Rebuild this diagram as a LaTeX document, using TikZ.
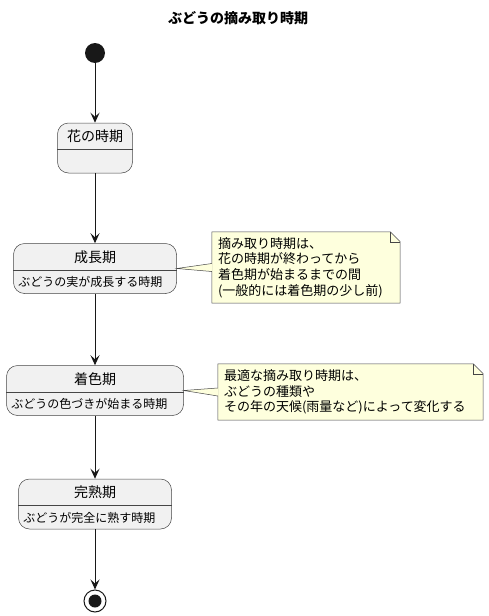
\documentclass[tikz,border=0pt]{standalone}
\usepackage{fontspec}
\setmainfont{Noto Sans CJK JP}
\usepackage{tikz}
\usetikzlibrary{arrows.meta,positioning,calc}
\definecolor{umlline}{HTML}{181818}
\definecolor{umlstate}{HTML}{F1F1F1}
\definecolor{umlnote}{HTML}{FEFFDD}

\begin{document}
\begin{tikzpicture}[x=1pt, y=-1pt,
  phase/.style={draw=umlline!80, fill=umlstate, rounded corners=11pt,
    line width=0.5pt, inner sep=0pt, minimum height=50pt},
  stitle/.style={font=\fontsize{14}{16}\selectfont, inner sep=0pt},
  sdesc/.style={font=\fontsize{12}{14}\selectfont, inner sep=0pt, anchor=west},
  notebox/.style={fill=umlnote, align=left, inner xsep=6pt, inner ysep=0pt,
    font=\fontsize{13}{15.6}\selectfont},
  noteline/.style={draw=umlline!80, line width=0.5pt},
  flow/.style={draw=umlline, line width=1pt,
    -{Stealth[length=10pt, width=9pt, inset=4pt]}}]
  \useasboundingbox (0,0) rectangle (489,616);
  \node[font=\fontsize{14}{16}\selectfont\bfseries, inner sep=0pt] (title) at (238,18)
    {ぶどうの摘み取り時期};
  % states
  \node[circle, fill=umlline, minimum size=20pt, inner sep=0pt] (start) at (95,53) {};
  \node[phase, minimum width=75pt] (s1) at (95,148) {};
  \node[stitle] (s1t) at ([yshift=-13.5pt]s1.north) {花の時期};
  \node[phase, minimum width=163pt] (s2) at (95,268.5) {};
  \node[stitle] (s2t) at ([yshift=-13.5pt]s2.north) {成長期};
  \node[sdesc] (s2d) at ([xshift=5pt, yshift=11.75pt]s2.south west) {ぶどうの実が成長する時期};
  \node[phase, minimum width=177pt] (s3) at (95,390.5) {};
  \node[stitle] (s3t) at ([yshift=-13.5pt]s3.north) {着色期};
  \node[sdesc] (s3d) at ([xshift=5pt, yshift=11.75pt]s3.south west) {ぶどうの色づきが始まる時期};
  \node[phase, minimum width=153pt] (s4) at (95,504) {};
  \node[stitle] (s4t) at ([yshift=-13.5pt]s4.north) {完熟期};
  \node[sdesc] (s4d) at ([xshift=5pt, yshift=11.75pt]s4.south west) {ぶどうが完全に熟す時期};
  \node[circle, draw=umlline, line width=1pt, minimum size=22pt, inner sep=0pt,
    path picture={\fill[umlline] (path picture bounding box.center) circle (6.5pt);}]
    (end) at (95,601) {};
  \foreach \s in {s1,s2,s3,s4}
    \draw[noteline] ([yshift=-26.5pt]\s.north west) -- ([yshift=-26.5pt]\s.north east);
  \foreach \a/\b in {start/s1,s1/s2,s2/s3,s3/s4,s4/end} \draw[flow] (\a) -- (\b);
  % notes
  \node[notebox, minimum width=188pt, minimum height=71pt, text width=176pt] (n1) at (306,267.5)
    {摘み取り時期は、\\花の時期が終わってから\\着色期が始まるまでの間\\(一般的には着色期の少し前)};
  \node[notebox, minimum width=265pt, minimum height=56pt, text width=253pt] (n2) at (350.5,392)
    {最適な摘み取り時期は、\\ぶどうの種類や\\その年の天候(雨量など)によって変化する};
  \foreach \n/\s in {n1/s2,n2/s3} {
    \fill[white] ([xshift=-10pt]\n.north east) -- (\n.north east)
      -- ([yshift=-10pt]\n.north east) -- cycle;
    \draw[noteline] (\n.south west) -- (\n.north west) -- ([xshift=-10pt]\n.north east)
      -- ([yshift=-10pt]\n.north east) -- (\n.south east) -- cycle;
    \draw[noteline] ([xshift=-10pt]\n.north east) |- ([yshift=-10pt]\n.north east);
    \fill[umlnote] (\s.east) -- ([xshift=0.6pt, yshift=4pt]\n.west)
      -- ([xshift=0.6pt, yshift=-4pt]\n.west) -- cycle;
    \draw[noteline] ([yshift=4pt]\n.west) -- (\s.east) -- ([yshift=-4pt]\n.west);
  }
\end{tikzpicture}
\end{document}
